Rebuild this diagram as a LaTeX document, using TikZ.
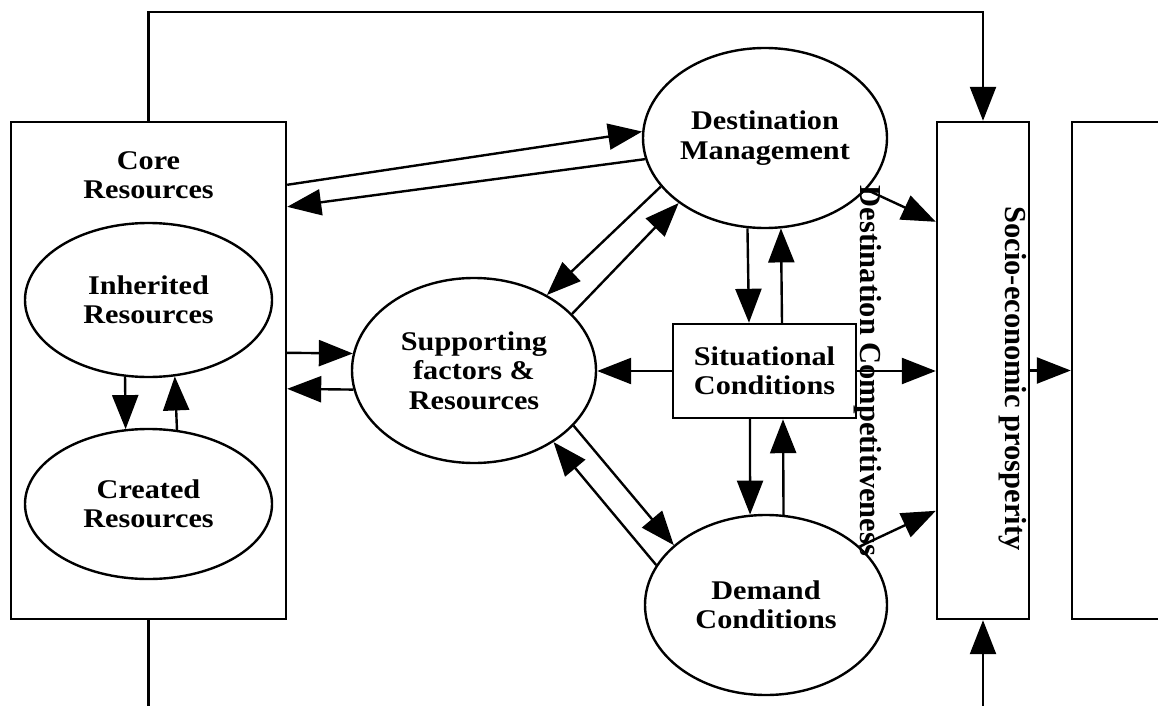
\documentclass[tikz,border=0pt]{standalone}
\usetikzlibrary{shapes.geometric,arrows.meta}
\usepackage{fontspec}
\newfontfamily\rotfont{Liberation Serif}
\newfontfamily\boxfont{Liberation Serif}[FakeStretch=1.12]
\begin{document}
\begin{tikzpicture}[x=1pt,y=-1pt,line width=2.4pt,
  box/.style={draw,rectangle,inner sep=0pt},
  ell/.style={draw,ellipse,inner sep=0pt,align=center,font=\fontsize{27}{29.5}\selectfont\boxfont\bfseries},
  lbl/.style={align=center,inner sep=0pt,font=\fontsize{27}{29.5}\selectfont\boxfont\bfseries},
  arr/.style={-{Triangle[length=34pt,width=26pt]}},
  rot/.style={rotate=-90,anchor=base,inner sep=0pt,font=\fontsize{30.5}{32}\selectfont\rotfont\bfseries}]
\useasboundingbox (0,0) rectangle (1158,706);
% nodes
\node[box,minimum width=275pt,minimum height=497pt] (core) at (148.5,370.5) {};
\node[lbl] (coretxt) at (148.5,175) {Core\\Resources};
\node[ell,minimum width=247pt,minimum height=154pt] (inh) at (148.5,300) {Inherited\\Resources};
\node[ell,minimum width=247pt,minimum height=150pt] (cre) at (148.5,504) {Created\\Resources};
\node[ell,minimum width=244pt,minimum height=180pt] (dm) at (765,138) {Destination\\Management};
\node[ell,minimum width=244pt,minimum height=185pt] (sf) at (474,370.5) {Supporting\\factors \&\\Resources};
\node[box,lbl,draw,minimum width=183pt,minimum height=94pt] (sc) at (764.5,371) {Situational\\Conditions};
\node[ell,minimum width=242pt,minimum height=180pt] (dem) at (766,605) {Demand\\Conditions};
\node[box,minimum width=92pt,minimum height=497pt] (soc) at (983,370.5) {};
\node[box,minimum width=180pt,minimum height=497pt] (out) at (1162,370.5) {};
\coordinate (bl) at (148.5,708);
\coordinate (br) at (983,708);
% connectors
\draw[arr] (core.north) -- ++(0,-109) -| (soc.north);
\draw (core.south) -- (bl);
\draw[arr] (br) -- (soc.south);
\draw[arr] (inh.253.1) -- (cre.107.3);
\draw[arr] (cre.69.75) -- (inh.289.8);
\draw[arr] ([yshift=-64pt]core.north east) -- (dm.177.7);
\draw[arr] (dm.190.4) -- ([yshift=-86pt]core.north east);
\draw[arr] (dm.205.9) -- (sf.46.6);
\draw[arr] (sf.30.7) -- (dm.217.4);
\draw[arr] ([yshift=-232pt]core.north east) -- (sf.172.4);
\draw[arr] (sf.189.5) -- ([yshift=-268pt]core.north east);
\draw[arr] (sc.west) -- (sc.west -| sf.east);
\draw[arr] (sf.331.4) -- (dem.147.5);
\draw[arr] (dem.160.8) -- (sf.318.1);
\draw[arr] (dm.259.8) -- ([xshift=-15.5pt]sc.north);
\draw[arr] ([xshift=17.5pt]sc.north) -- (dm.280.8);
\draw[arr] ([xshift=-14.5pt]sc.south) -- (dem.100.2);
\draw[arr] (dem.79.2) -- ([xshift=18.5pt]sc.south);
\draw[arr] (dm.333) -- ([yshift=-101pt]soc.north west);
\draw[arr] (sc.east) -- (sc.east -| soc.west);
\draw[arr] (dem.32) -- ([yshift=-390pt]soc.north west);
\draw[arr] (soc.east) -- (soc.east -| out.west);
% rotated labels
\node[rot] (dctxt) at (860,371) {Destination Competitiveness};
\node[rot] (soctxt) at (1005,378.5) {Socio-economic prosperity};
\end{tikzpicture}
\end{document}
